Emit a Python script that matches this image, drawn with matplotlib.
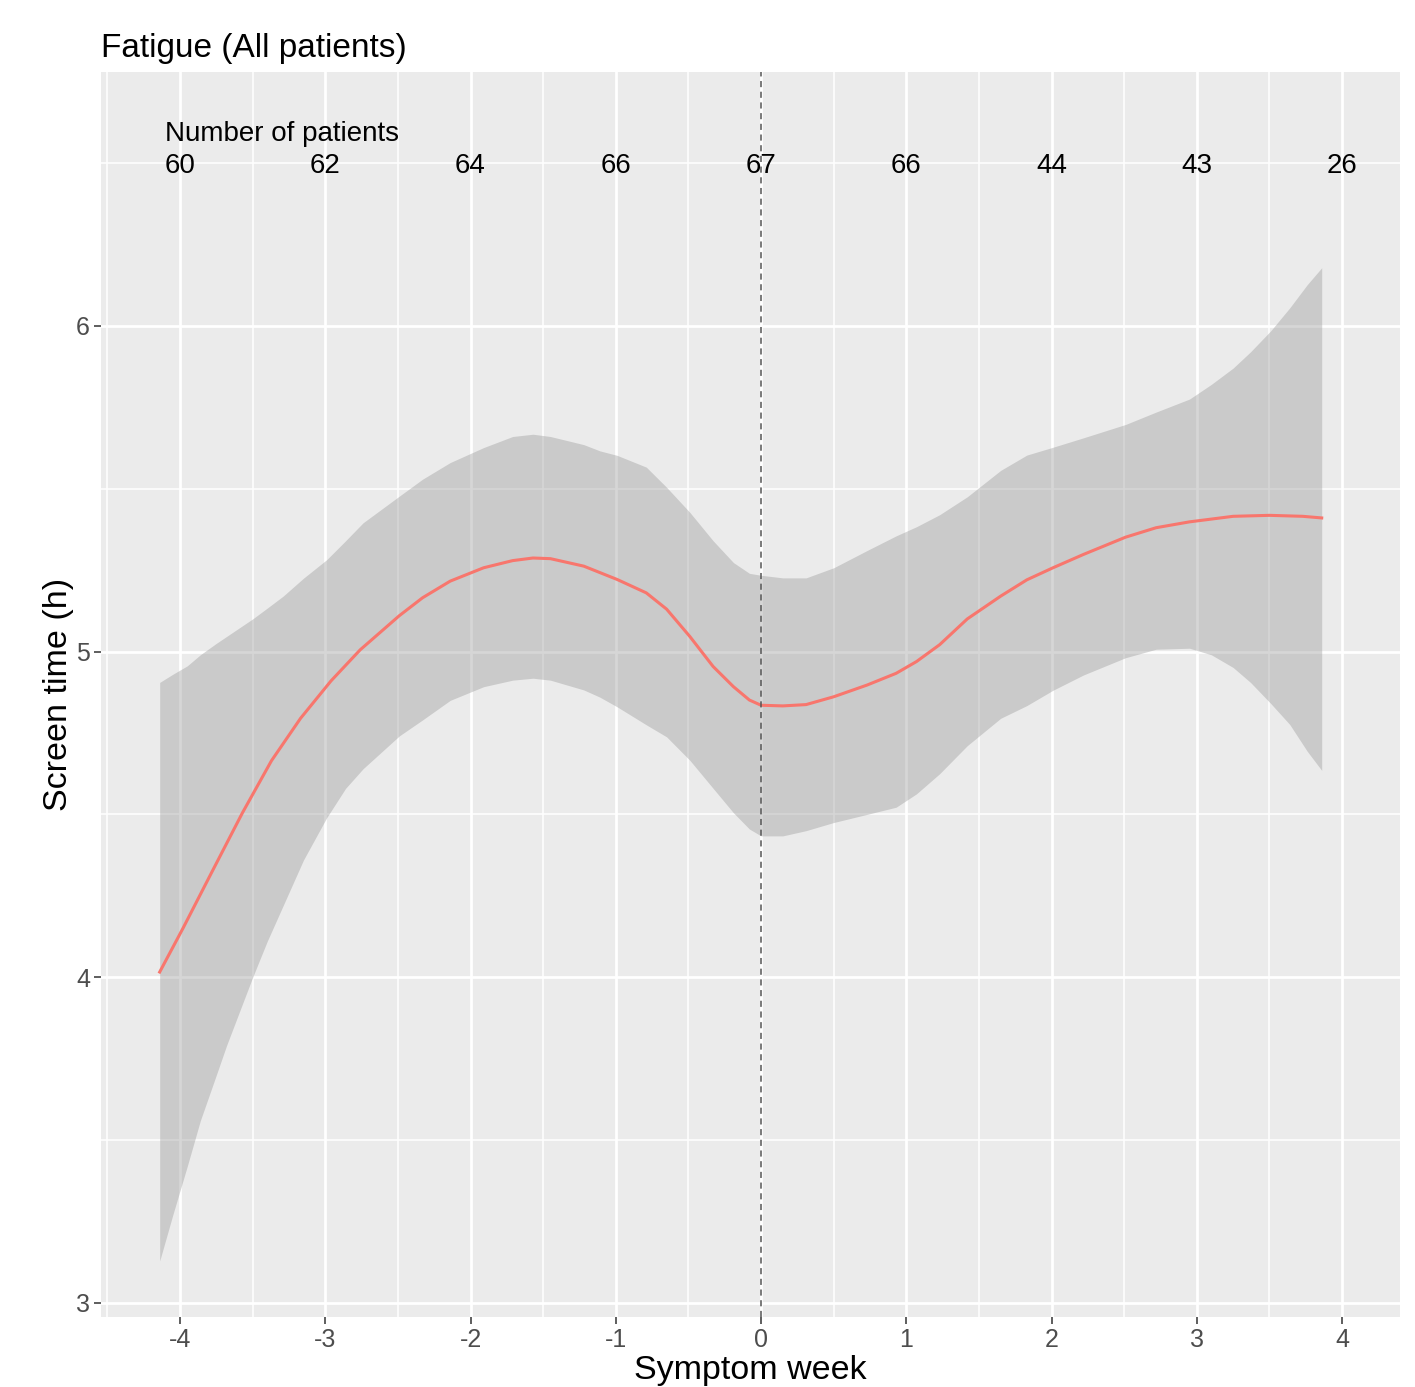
import matplotlib
matplotlib.use("Agg")
import matplotlib.pyplot as plt
import numpy as np

plt.rcParams['font.family'] = ['Liberation Sans', 'DejaVu Sans']

# ---- data ----
# confidence band
week_band = [-4.14, -4.05, -3.95, -3.86, -3.75, -3.68, -3.5, -3.4, -3.29, -3.15,
             -2.99, -2.86, -2.74, -2.49, -2.33, -2.14, -1.91, -1.71, -1.57, -1.45,
             -1.22, -1.11, -0.99, -0.79, -0.65, -0.49, -0.33, -0.19, -0.08, 0.0,
             0.15, 0.31, 0.5, 0.73, 0.93, 1.07, 1.23, 1.42, 1.65, 1.83,
             2.01, 2.22, 2.51, 2.72, 2.95, 3.1, 3.25, 3.37, 3.51, 3.64,
             3.76, 3.86]
lower = [3.129, 3.27, 3.42, 3.56, 3.70, 3.79, 4.0, 4.11, 4.22, 4.36,
         4.49, 4.58, 4.64, 4.741, 4.79, 4.85, 4.892, 4.912, 4.918, 4.912,
         4.882, 4.86, 4.83, 4.775, 4.738, 4.666, 4.58, 4.505, 4.455, 4.434,
         4.434, 4.45, 4.475, 4.50, 4.522, 4.563, 4.625, 4.711, 4.795, 4.834,
         4.881, 4.928, 4.981, 5.007, 5.01, 4.99, 4.951, 4.905, 4.84, 4.776,
         4.694, 4.635]
upper = [4.905, 4.93, 4.956, 4.99, 5.025, 5.046, 5.10, 5.133, 5.17, 5.225,
         5.282, 5.34, 5.395, 5.477, 5.529, 5.58, 5.626, 5.66, 5.667, 5.66,
         5.635, 5.616, 5.602, 5.566, 5.504, 5.427, 5.34, 5.273, 5.24, 5.234,
         5.226, 5.226, 5.257, 5.31, 5.355, 5.383, 5.42, 5.475, 5.556, 5.603,
         5.627, 5.656, 5.697, 5.735, 5.775, 5.82, 5.87, 5.92, 5.985, 6.055,
         6.126, 6.178]

# smoothed mean
week_line = [-4.14, -3.98, -3.79, -3.57, -3.37, -3.17, -2.96, -2.76, -2.49, -2.33,
             -2.14, -1.91, -1.71, -1.57, -1.45, -1.22, -0.99, -0.79, -0.65, -0.49,
             -0.33, -0.19, -0.08, 0.0, 0.15, 0.31, 0.5, 0.73, 0.93, 1.07,
             1.23, 1.42, 1.65, 1.83, 2.01, 2.22, 2.51, 2.72, 2.95, 3.25,
             3.5, 3.73, 3.86]
mean = [4.016, 4.15, 4.315, 4.505, 4.665, 4.795, 4.91, 5.005, 5.11, 5.165,
        5.216, 5.257, 5.279, 5.287, 5.285, 5.262, 5.221, 5.18, 5.13, 5.046,
        4.954, 4.892, 4.851, 4.835, 4.833, 4.837, 4.861, 4.897, 4.933, 4.969,
        5.021, 5.10, 5.17, 5.22, 5.257, 5.298, 5.351, 5.38, 5.398, 5.415,
        5.418, 5.415, 5.41]

count_weeks = [-4, -3, -2, -1, 0, 1, 2, 3, 4]
n_patients = [60, 62, 64, 66, 67, 66, 44, 43, 26]

title = "Fatigue (All patients)"
count_title = "Number of patients"
xlabel = "Symptom week"
ylabel = "Screen time (h)"

# ---- figure ----
W, H = 1415, 1387
fig = plt.figure(figsize=(W / 100, H / 100), dpi=100)
ax = fig.add_axes([101 / W, 1 - 1317 / H, (1400 - 101) / W, (1317 - 72) / H])
ax.set_facecolor('#EBEBEB')
for s in ax.spines.values():
    s.set_visible(False)

ax.set_xlim(-4.544, 4.399)
ax.set_ylim(2.957, 6.779)

# grid
for v in np.arange(-4.5, 4.5, 1.0):
    ax.axvline(v, color='white', lw=1.1, zorder=0)
for v in np.arange(3.5, 6.6, 1.0):
    ax.axhline(v, color='white', lw=1.1, zorder=0)
for v in range(-4, 5):
    ax.axvline(v, color='white', lw=2.0, zorder=0)
for v in range(3, 7):
    ax.axhline(v, color='white', lw=2.0, zorder=0)

ax.fill_between(week_band, lower, upper, color='#999999', alpha=0.4, lw=0, zorder=2)
ax.plot(week_line, mean, color='#F8766D', lw=2.2, zorder=3)
ax.axvline(0, color='#555555', lw=1.1, ls=(0, (4, 3)), zorder=4)

ax.text(-4.10, 6.59, count_title, ha='left', va='center', fontsize=20, color='black')
for x, n in zip(count_weeks, n_patients):
    ax.text(x, 6.49, str(n), ha='center', va='center', fontsize=20, color='black')

ax.set_xticks(range(-4, 5))
ax.set_yticks([3, 4, 5, 6])
ax.set_xticklabels([str(v) for v in range(-4, 5)])
ax.set_yticklabels(['3', '4', '5', '6'])
ax.tick_params(axis='both', length=5, width=1.1, color='#333333',
               labelcolor='#4D4D4D', labelsize=18, pad=3)

ax.set_xlabel(xlabel, fontsize=24.5, color='black', labelpad=2)
ax.set_ylabel(ylabel, fontsize=24.5, color='black', labelpad=1)
ax.set_title(title, loc='left', fontsize=24, color='black', pad=10.5)

fig.savefig('out.png', dpi=100)
